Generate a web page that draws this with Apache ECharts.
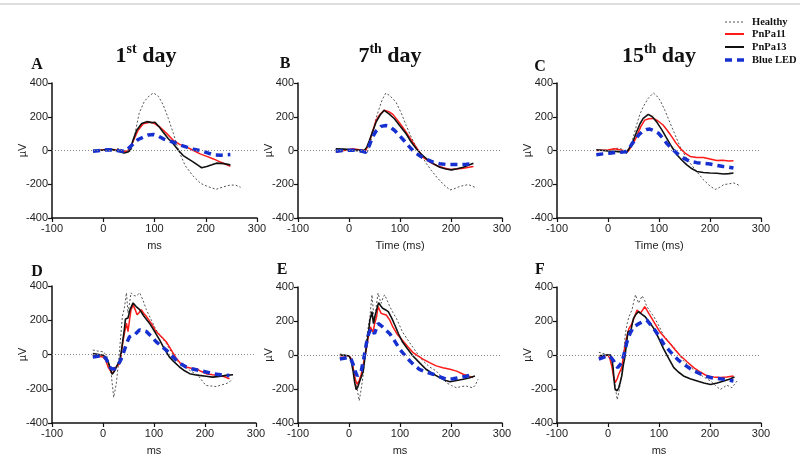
<!DOCTYPE html>
<html><head><meta charset="utf-8">
<script src="https://cdn.jsdelivr.net/npm/echarts/dist/echarts.min.js"></script>
<style>html,body{margin:0;padding:0;background:#fff}#c{width:800px;height:467px}</style>
</head><body><div id="c"></div><script>
// ---- data: [time (ms), amplitude (µV)] ----
const seriesNames = ['Healthy', 'PnPa11', 'PnPa13', 'Blue LED'];
const panelLetters = ['A', 'B', 'C', 'D', 'E', 'F'];
const dayTitles = [['1', 'st'], ['7', 'th'], ['15', 'th']];
const xNames = ['ms', 'Time (ms)', 'Time (ms)', 'ms', 'ms', 'ms'];
const xTicks = [-100, 0, 100, 200, 300];
const yTicks = [-400, -200, 0, 200, 400];

const healthyA = [[-20,0],[0,3],[20,3],[30,12],[40,0],[50,-10],[55,5],[62,100],[70,220],[80,290],[90,325],[98,341],[108,320],[117,270],[127,190],[137,100],[147,0],[160,-90],[175,-150],[190,-195],[205,-215],[220,-230],[235,-215],[248,-205],[258,-205],[268,-218]];
const redA = [[-20,-5],[0,3],[10,5],[20,5],[30,0],[40,-5],[45,-5],[52,10],[59,60],[68,120],[78,158],[91,168],[100,160],[111,138],[124,100],[137,59],[150,35],[163,20],[176,0],[189,-20],[202,-35],[215,-50],[230,-70],[248,-93]];
const blackA = [[-20,0],[0,3],[10,8],[20,5],[30,-5],[40,-15],[47,-10],[52,0],[58,60],[65,118],[75,160],[85,171],[95,165],[101,167],[109,140],[117,108],[127,70],[137,39],[147,0],[156,-30],[166,-50],[176,-69],[186,-90],[192,-102],[202,-95],[212,-85],[221,-75],[235,-78],[248,-85]];
const blueA = [[-20,-5],[-10,-2],[0,2],[10,5],[20,3],[30,-2],[40,-5],[45,0],[52,20],[59,40],[68,65],[78,79],[88,92],[98,95],[108,85],[117,69],[127,58],[137,49],[150,33],[163,20],[176,8],[189,0],[202,-12],[215,-26],[230,-28],[248,-24]];

const healthyB = [[-26,5],[-10,5],[0,3],[10,0],[23,-10],[36,-10],[41,30],[46,100],[52,180],[59,247],[65,300],[72,340],[80,325],[92,287],[102,225],[112,149],[122,80],[132,20],[142,-30],[152,-79],[162,-120],[172,-158],[185,-200],[198,-234],[208,-225],[218,-212],[234,-202],[247,-218]];
const redB = [[-26,-10],[-10,0],[7,10],[20,5],[33,0],[40,50],[46,110],[53,178],[61,215],[69,238],[78,230],[86,214],[95,180],[105,139],[115,95],[125,50],[135,5],[145,-40],[158,-68],[172,-89],[185,-102],[198,-113],[211,-110],[224,-105],[244,-95]];
const blackB = [[-26,10],[-10,8],[0,5],[15,3],[30,0],[35,20],[40,59],[46,110],[53,168],[61,210],[69,238],[79,215],[89,188],[100,145],[112,99],[122,50],[132,10],[142,-22],[152,-50],[165,-78],[178,-99],[190,-110],[201,-115],[212,-108],[224,-99],[244,-75]];
const blueB = [[-26,-4],[-10,0],[5,2],[20,0],[33,-10],[40,30],[46,79],[53,115],[63,143],[72,148],[79,143],[89,120],[99,89],[109,55],[119,20],[128,-8],[138,-30],[150,-50],[165,-69],[178,-78],[191,-83],[205,-83],[218,-83],[230,-82],[244,-79]];

const healthyC = [[-23,0],[0,5],[10,8],[20,14],[30,5],[36,-20],[42,20],[49,73],[56,150],[62,210],[69,259],[79,310],[89,341],[95,325],[102,298],[112,235],[122,161],[132,90],[141,24],[151,-30],[161,-75],[174,-125],[187,-173],[200,-210],[210,-231],[218,-220],[227,-202],[237,-198],[246,-192],[253,-200],[260,-212]];
const redC = [[-23,0],[0,3],[13,10],[25,3],[39,-6],[45,20],[50,45],[56,82],[64,140],[72,180],[80,188],[89,190],[98,175],[108,151],[116,120],[125,82],[133,45],[141,14],[151,-15],[161,-35],[174,-42],[187,-41],[200,-50],[213,-59],[225,-58],[237,-62],[246,-61]];
const blackC = [[-23,4],[0,-3],[15,-5],[25,-8],[36,-12],[42,15],[49,53],[56,110],[63,160],[69,190],[79,214],[87,200],[95,171],[105,125],[115,73],[125,22],[135,-25],[145,-58],[154,-84],[164,-107],[174,-124],[187,-130],[200,-133],[213,-135],[227,-139],[237,-137],[246,-133]];
const blueC = [[-23,-25],[-10,-20],[3,-16],[15,-12],[25,-10],[36,-6],[44,25],[53,63],[61,95],[69,116],[76,125],[82,127],[90,118],[99,102],[107,75],[115,43],[125,12],[135,-16],[148,-45],[161,-65],[174,-72],[187,-75],[200,-80],[213,-88],[226,-95],[236,-98],[246,-104]];

const healthyD = [[-20,26],[-10,20],[0,16],[7,-4],[12,-50],[16,-112],[21,-250],[26,-171],[30,-60],[33,45],[38,223],[42,272],[46,360],[49,242],[52,300],[55,360],[60,345],[65,341],[72,360],[78,320],[85,262],[95,200],[104,144],[114,105],[124,65],[134,15],[144,-33],[157,-65],[170,-93],[180,-110],[189,-132],[196,-160],[202,-181],[212,-184],[222,-187],[232,-178],[241,-171],[248,-160],[254,-142]];
const redD = [[-20,-4],[0,-14],[5,-30],[10,-73],[18,-112],[22,-95],[26,-73],[33,-53],[36,10],[39,75],[43,140],[46,183],[49,134],[52,200],[55,262],[59,290],[63,262],[67,232],[71,245],[75,262],[80,240],[85,223],[95,180],[104,134],[114,105],[124,75],[134,25],[144,-24],[153,-55],[163,-73],[173,-80],[183,-83],[192,-98],[202,-112],[215,-118],[228,-122],[238,-130],[248,-142]];
const blackD = [[-20,6],[0,-4],[5,-15],[10,-43],[14,-80],[18,-116],[22,-100],[26,-73],[33,-33],[36,20],[39,85],[42,150],[44,207],[49,213],[53,262],[59,301],[65,280],[72,262],[80,225],[91,183],[101,135],[111,85],[120,35],[130,-14],[140,-45],[150,-73],[160,-95],[170,-112],[180,-118],[189,-122],[202,-127],[215,-132],[228,-128],[241,-122],[255,-118]];
const blueD = [[-20,-14],[-10,-10],[0,-4],[7,-30],[13,-73],[18,-85],[23,-83],[28,-65],[33,-43],[38,-10],[42,26],[47,70],[52,104],[57,112],[62,114],[67,130],[72,144],[78,140],[85,134],[95,105],[104,75],[114,50],[124,26],[134,-5],[144,-33],[153,-55],[163,-73],[176,-85],[189,-93],[202,-102],[215,-112],[230,-118],[248,-122]];

const healthyE = [[-18,6],[0,-4],[6,-40],[11,-113],[16,-200],[20,-269],[24,-200],[28,-113],[31,-10],[34,86],[38,170],[41,225],[45,354],[50,185],[54,300],[57,364],[60,330],[63,304],[67,340],[70,354],[75,320],[80,285],[86,250],[93,215],[105,135],[115,90],[125,46],[135,5],[145,-34],[158,-70],[171,-94],[181,-125],[191,-163],[201,-180],[211,-193],[220,-185],[230,-183],[243,-193],[248,-175],[253,-143]];
const redE = [[-18,-4],[0,-4],[4,-20],[8,-74],[12,-140],[16,-173],[20,-150],[24,-113],[29,-40],[34,36],[38,110],[42,165],[47,135],[50,180],[54,225],[57,285],[60,265],[63,245],[68,240],[73,235],[80,205],[86,165],[95,120],[105,86],[115,50],[125,16],[135,-5],[145,-24],[158,-45],[171,-64],[184,-75],[198,-84],[211,-95],[224,-113],[235,-125],[243,-133]];
const blackE = [[-18,0],[0,-4],[4,-30],[8,-94],[11,-160],[14,-203],[17,-190],[20,-163],[24,-130],[28,-94],[31,-20],[34,46],[38,130],[41,205],[45,255],[48,185],[51,230],[54,265],[58,308],[62,290],[66,275],[72,265],[77,255],[84,215],[90,175],[97,125],[105,76],[115,35],[125,-4],[138,-45],[151,-84],[165,-112],[178,-133],[188,-148],[198,-157],[211,-150],[224,-143],[235,-135],[247,-123]];
const blueE = [[-18,-24],[0,-14],[4,-25],[8,-54],[12,-95],[16,-123],[20,-110],[24,-94],[29,-20],[34,66],[38,120],[43,155],[47,140],[50,125],[54,160],[57,185],[62,175],[66,165],[73,145],[80,125],[90,80],[99,36],[109,0],[119,-34],[128,-60],[138,-84],[151,-100],[165,-113],[178,-128],[191,-143],[204,-140],[217,-133],[230,-125],[243,-113]];

const healthyF = [[-18,16],[-5,5],[0,0],[5,-30],[10,-94],[14,-180],[18,-263],[22,-210],[25,-153],[30,-20],[34,125],[38,190],[41,225],[47,265],[51,320],[54,354],[57,330],[60,305],[64,330],[67,348],[72,320],[76,285],[83,255],[90,225],[100,170],[109,115],[119,80],[129,46],[139,5],[148,-34],[161,-70],[175,-103],[188,-130],[201,-153],[211,-180],[220,-203],[227,-190],[233,-177],[243,-193],[253,-153]];
const redF = [[-18,-14],[-5,-5],[0,0],[4,-25],[8,-74],[11,-130],[14,-163],[18,-140],[21,-113],[27,-74],[30,-10],[34,66],[38,120],[41,155],[47,185],[52,225],[57,265],[60,255],[63,245],[68,265],[72,285],[77,260],[82,235],[92,185],[102,135],[112,100],[122,66],[132,30],[142,-4],[155,-40],[168,-74],[181,-100],[194,-123],[207,-130],[220,-133],[233,-130],[246,-123]];
const blackF = [[-18,-4],[0,0],[5,0],[8,-30],[10,-74],[12,-150],[14,-203],[18,-210],[21,-193],[24,-160],[27,-123],[30,-60],[33,-14],[36,60],[39,135],[42,140],[45,145],[48,190],[50,215],[55,240],[60,255],[66,240],[73,225],[82,190],[90,155],[100,95],[109,36],[119,-20],[129,-74],[138,-100],[148,-123],[161,-140],[175,-153],[188,-165],[201,-173],[214,-165],[227,-153],[238,-143],[248,-129]];
const blueF = [[-18,-24],[-5,-10],[0,-4],[6,-15],[11,-34],[15,-60],[19,-74],[23,-60],[27,-44],[32,10],[37,76],[43,125],[50,165],[58,180],[67,195],[76,205],[83,180],[90,155],[100,110],[109,66],[119,30],[129,-4],[138,-30],[148,-54],[161,-80],[175,-103],[188,-120],[201,-133],[214,-138],[227,-143],[237,-148],[246,-153]];

const panels = [
  [healthyA, redA, blackA, blueA],
  [healthyB, redB, blackB, blueB],
  [healthyC, redC, blackC, blueC],
  [healthyD, redD, blackD, blueD],
  [healthyE, redE, blackE, blueE],
  [healthyF, redF, blackF, blueF]
];

// ---- layout / style ----
const grids = [
  {left: 52, top: 83, width: 205, height: 135},
  {left: 298, top: 83, width: 204, height: 135},
  {left: 557, top: 83, width: 204, height: 135},
  {left: 52, top: 286, width: 204, height: 137},
  {left: 298, top: 287, width: 204, height: 136},
  {left: 557, top: 287, width: 204, height: 136}
];
const lineStyles = [
  {color: '#555', width: 1, type: [2, 2]},
  {color: '#ff1a1a', width: 1.5, type: 'solid'},
  {color: '#111', width: 1.6, type: 'solid'},
  {color: '#1630d0', width: 3.5, type: [7, 5]}
];
const serif = '"Liberation Serif", "Times New Roman", serif';
const sans = '"Liberation Sans", Arial, sans-serif';

const xAxes = grids.map((g, i) => ({
  type: 'value', gridIndex: i, min: xTicks[0], max: xTicks[xTicks.length - 1], interval: 100,
  name: xNames[i], nameLocation: 'middle', nameGap: 22,
  nameTextStyle: {fontFamily: sans, fontSize: 11, color: '#222'},
  axisLine: {onZero: false, lineStyle: {color: '#111', width: 1.5}},
  axisTick: {show: true, length: 4, lineStyle: {color: '#111', width: 1.2}},
  axisLabel: {fontFamily: sans, fontSize: 11, color: '#222', margin: 5},
  splitLine: {show: false}
}));
const yAxes = grids.map((g, i) => ({
  type: 'value', gridIndex: i, min: yTicks[0], max: yTicks[yTicks.length - 1], interval: 200,
  name: '\u00B5V', nameLocation: 'middle', nameGap: 24, nameMoveOverlap: false,
  nameTextStyle: {fontFamily: sans, fontSize: 11, color: '#222'},
  axisLine: {show: true, onZero: false, lineStyle: {color: '#111', width: 1.5}},
  axisTick: {show: true, length: 4, lineStyle: {color: '#111', width: 1.2}},
  axisLabel: {fontFamily: sans, fontSize: 11, color: '#222', margin: 4},
  splitLine: {show: false}
}));

const series = [];
panels.forEach((p, i) => {
  p.forEach((data, k) => {
    const s = {
      type: 'line', name: seriesNames[k], xAxisIndex: i, yAxisIndex: i,
      data: data, symbol: 'none', showSymbol: false, smooth: false,
      lineStyle: lineStyles[k], itemStyle: {color: lineStyles[k].color},
      z: k === 3 ? 3 : 2, silent: true, animation: false
    };
    if (k === 0) {
      s.markLine = {
        silent: true, symbol: 'none', label: {show: false},
        lineStyle: {color: '#888', type: [1, 2], width: 1},
        data: [{yAxis: 0}], animation: false
      };
    }
    series.push(s);
  });
});

const graphics = [
  {type: 'rect', shape: {x: 0, y: 3, width: 800, height: 2}, style: {fill: '#dedede'}, silent: true}
];
// legend (drawn as graphic lines + text)
const legendRowsY = [22, 34, 47, 60];
seriesNames.forEach((nm, k) => {
  const ls = lineStyles[k];
  graphics.push({
    type: 'line', shape: {x1: 725, y1: legendRowsY[k], x2: 744, y2: legendRowsY[k]},
    style: {stroke: ls.color, lineWidth: k === 3 ? 3.5 : (k === 0 ? 1 : 2), lineDash: k === 0 ? [2, 2] : (k === 3 ? [7, 5] : null)},
    silent: true
  });
  graphics.push({
    type: 'text', x: 752, y: legendRowsY[k],
    style: {text: nm, textAlign: 'left', textVerticalAlign: 'middle', fontFamily: serif, fontWeight: 'bold', fontSize: 10.5, fill: '#111'},
    silent: true
  });
});
const titleX = [146, 390, 659];
dayTitles.forEach((t, i) => {
  graphics.push({
    type: 'text', x: titleX[i], y: 55,
    style: {
      text: '{n|' + t[0] + '}{s|' + t[1] + '}{n| day}',
      textAlign: 'center', textVerticalAlign: 'middle',
      rich: {
        n: {fontFamily: serif, fontWeight: 'bold', fontSize: 22, fill: '#111', verticalAlign: 'bottom', lineHeight: 25},
        s: {fontFamily: serif, fontWeight: 'bold', fontSize: 14, fill: '#111', verticalAlign: 'top', lineHeight: 25}
      }
    }, silent: true
  });
});
const letterPos = [[37, 65], [285, 64], [540, 67], [37, 272], [282, 270], [540, 270]];
panelLetters.forEach((L, i) => {
  graphics.push({
    type: 'text', x: letterPos[i][0], y: letterPos[i][1],
    style: {text: L, textAlign: 'center', textVerticalAlign: 'middle', fontFamily: serif, fontWeight: 'bold', fontSize: 16, fill: '#111'},
    silent: true
  });
});

const chart = echarts.init(document.getElementById('c'), null, {renderer: 'canvas'});
chart.setOption({
  animation: false,
  backgroundColor: '#fff',
  grid: grids,
  xAxis: xAxes,
  yAxis: yAxes,
  graphic: graphics,
  series: series
});
</script></body></html>
